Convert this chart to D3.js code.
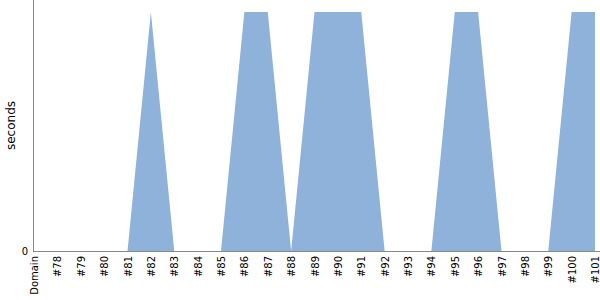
<!DOCTYPE html>
<html><head><meta charset="utf-8">
<script src="https://cdn.jsdelivr.net/npm/d3@7"></script>
<style>body{margin:0;background:#fff}svg{display:block}</style>
</head><body>
<svg id="c" width="600" height="300"></svg>
<script>
const categories = ["Domain","#78","#79","#80","#81","#82","#83","#84","#85","#86","#87","#88","#89","#90","#91","#92","#93","#94","#95","#96","#97","#98","#99","#100","#101"];
const values = [0,0,0,0,0,1,0,0,0,1,1,0,1,1,1,0,0,0,1,1,0,0,0,1,1];
const yTicks = [0];
const yLabel = "seconds";

(function () {
const svg = d3.select("#c");
const mLeft = 34, mRight = 595, mTop = 0, mBottom = 251;
const x = d3.scalePoint().domain(categories).range([mLeft, mRight]);
const y = d3.scaleLinear().domain([0, 1.05]).range([mBottom, mTop]);

const data = categories.map((c, i) => ({c, v: values[i]}));
svg.append("path").datum(data)
  .attr("fill", "#8fb2db")
  .attr("d", d3.area().x(d => x(d.c)).y0(y(0)).y1(d => y(d.v)));

const xa = svg.append("g").attr("transform", `translate(0,${mBottom})`)
  .call(d3.axisBottom(x).tickSize(0).tickPadding(0));
xa.select(".domain").attr("stroke", "#888").attr("d", `M${mLeft-1},0.5H${mRight+5}`);
xa.selectAll("text")
  .attr("font-family", "DejaVu Sans").attr("font-size", 10).attr("fill", "#000")
  .attr("transform", "rotate(-90)").attr("text-anchor", "end")
  .attr("x", -5).attr("y", 0).attr("dy", "0.35em");

const ya = svg.append("g").attr("transform", `translate(${mLeft-1},0)`)
  .call(d3.axisLeft(y).tickValues(yTicks).tickFormat(d3.format("d")).tickSize(0).tickPadding(5));
ya.select(".domain").attr("stroke", "#888").attr("d", `M0.5,0V${mBottom}`);
ya.selectAll("text").attr("font-family", "DejaVu Sans").attr("font-size", 10).attr("fill", "#000");

svg.append("text").attr("transform", `translate(15,${(mTop+mBottom)/2}) rotate(-90)`)
  .attr("text-anchor", "middle").attr("font-family", "DejaVu Sans").attr("font-size", 12)
  .text(yLabel);
})();
</script>
</body></html>
